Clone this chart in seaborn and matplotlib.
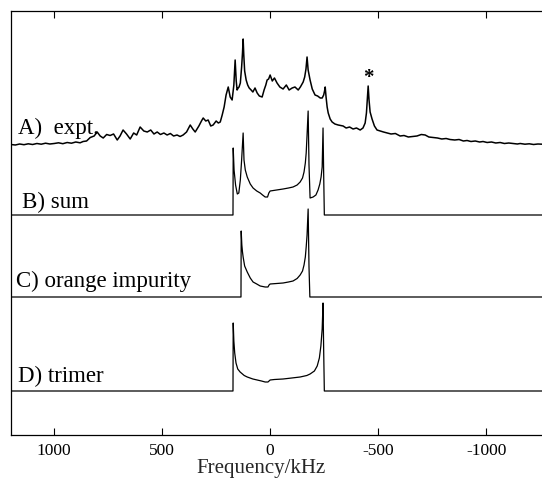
import matplotlib
matplotlib.use("Agg")
import matplotlib.pyplot as plt
import seaborn as sns
import pandas as pd

# ---------------- data (frequency in kHz, intensity in arbitrary units) ----------------
expt_freq = [1200, 1180, 1160, 1140, 1120, 1100, 1080, 1060, 1040, 1020,
             1000, 980, 960, 940, 920, 900, 880, 866, 850, 833,
             815, 801, 787, 773, 757, 741, 725, 708, 695, 681,
             665, 648, 632, 618, 602, 585, 569, 553, 538, 523,
             508, 492, 477, 462, 447, 431, 417, 403, 387, 370,
             358, 347, 330, 318, 310, 298, 287, 275, 264, 250,
             240, 231, 222, 213, 204, 194, 185, 176, 168, 162,
             157, 153, 148, 144, 138, 132, 128, 125, 122, 118,
             111, 104, 97, 88, 80, 70, 60, 50, 37, 28,
             20, 14, 7, 0, -10, -20, -32, -45, -60, -75,
             -88, -102, -115, -130, -140, -153, -160, -166, -171, -176,
             -185, -195, -208, -220, -232, -241, -248, -252, -255, -259,
             -264, -269, -278, -287, -300, -315, -338, -352, -368, -384,
             -400, -417, -430, -440, -446, -450, -454, -458, -463, -472,
             -483, -495, -510, -525, -542, -560, -580, -602, -620, -640,
             -662, -680, -700, -718, -735, -755, -775, -795, -815, -833,
             -855, -875, -895, -912, -930, -950, -970, -986, -1005, -1025,
             -1045, -1065, -1085, -1105, -1125, -1145, -1158, -1180, -1200, -1220,
             -1240, -1260]
expt_int = [0.5, 0, 1, 0.3, 1.2, 0.5, 1.5, 0.8, 1.8, 1,
            1.5, 2.2, 1.3, 2.5, 1.8, 3, 2.2, 3.5, 4, 7.5,
            9, 13, 9, 7, 10.5, 9.5, 11, 5, 9, 15,
            11, 6, 12, 10, 18, 14, 13, 15, 11, 13,
            10.5, 12, 10, 11.5, 9, 10, 8.5, 10, 13, 20,
            16, 13, 19, 24, 27, 24, 25, 19, 20, 24,
            22, 23, 30, 38, 50, 58, 48, 45, 60, 85,
            64, 55, 57, 58, 62, 78, 92, 106, 90, 74,
            65, 60, 57, 55, 53, 57, 52, 49, 48, 55,
            60, 65, 66, 70, 64, 67, 62, 58, 56, 60,
            55, 57, 58, 55, 58, 63, 68, 76, 88, 75,
            65, 56, 50, 49, 47, 47, 50, 54, 58, 48,
            38, 32, 26, 23, 21, 20, 19, 17, 18, 16,
            17, 15, 17, 22, 32, 45, 59, 45, 33, 26,
            19, 15, 14, 13, 12, 11, 11.5, 9, 9.5, 8,
            8.5, 9, 10.5, 10, 8, 7.5, 7, 6, 6.5, 5.5,
            5, 5.5, 4, 4.5, 3.5, 4, 3, 3.5, 2.5, 3,
            2, 2.5, 1.5, 2, 1.5, 1, 1.5, 0.8, 1.2, 0.5,
            1, 0.8]

sum_freq = [1200, 172, 171, 167, 160, 152, 145, 138, 132, 125,
            121, 115, 106, 92, 79, 62, 46, 35, 23, 12,
            6, 0, -30, -60, -85, -106, -125, -139, -150, -157,
            -163, -167, -171, -176, -180, -185, -199, -212, -222, -230,
            -236, -241, -245, -248, -251, -1260]
sum_int = [0, 0, 67, 45, 30, 21, 22, 35, 55, 82,
           55, 45, 38, 31, 27, 24, 22, 20, 18, 18,
           22, 24, 25, 26, 27, 28, 30, 33, 37, 43,
           52, 62, 80, 104, 50, 17, 18, 20, 25, 31,
           38, 48, 87, 40, 0, 0]

orange_freq = [1200, 135, 134, 131, 128, 125, 118, 106, 92, 79,
               62, 46, 23, 10, 5, 0, -30, -60, -85, -106,
               -125, -139, -150, -157, -163, -167, -171, -176, -180, -184,
               -1260]
orange_int = [0, 0, 66, 52, 45, 40, 31, 25, 19, 15,
              13, 11, 10, 10, 12, 13, 13.5, 14, 15, 16,
              18.5, 22, 26, 32, 40, 50, 62, 88, 30, 0,
              0]

trimer_freq = [1200, 172, 171, 168, 164, 158, 150, 139, 120, 106,
               80, 60, 40, 23, 10, 5, 0, -20, -60, -100,
               -139, -170, -185, -205, -218, -228, -235, -241, -245, -248,
               -251, -1260]
trimer_int = [0, 0, 68, 50, 38, 28, 22, 19, 15.5, 14,
              12, 11, 10, 9, 9, 10, 11, 11.5, 12, 13,
              14, 15.5, 17, 20, 25, 33, 45, 62, 88, 40,
              0, 0]

trace_labels = ["A)  expt.", "B) sum", "C) orange impurity", "D) trimer"]
trace_offsets = [290, 220, 138, 44]
label_y = [301, 227, 148, 53]
label_x = [1167, 1148, 1176, 1167]
star_freq = -454
tick_values = [1000, 500, 0, -500, -1000]

# ---------------- plotting ----------------
sns.set_theme(style="ticks")
plt.rcParams["font.family"] = ["Liberation Serif", "DejaVu Serif"]

fig = plt.figure(figsize=(5.42, 4.78), dpi=100)
ax = fig.add_axes([11 / 542, 1 - 435 / 478, 1 - 11 / 542, (435 - 11) / 478])

traces = [(expt_freq, expt_int), (sum_freq, sum_int),
          (orange_freq, orange_int), (trimer_freq, trimer_int)]
widths = [1.1, 0.9, 0.9, 0.9]
for (f, inten), off, lw in zip(traces, trace_offsets, widths):
    df = pd.DataFrame({"freq": f, "y": [v + off for v in inten]})
    sns.lineplot(data=df, x="freq", y="y", ax=ax, color="black",
                 linewidth=lw, sort=False, estimator=None)

for name, x, y in zip(trace_labels, label_x, label_y):
    ax.text(x, y, name, fontsize=16.5, ha="left", va="baseline", color="black")

star_y = trace_offsets[0] + max(v for fr, v in zip(expt_freq, expt_int) if fr == star_freq)
ax.text(star_freq, star_y - 2, "*", fontsize=15, ha="center", va="bottom",
        color="black", fontweight="bold")

ax.set_xlim(1200, -1259)
ax.set_ylim(0, 424)
ax.set_xticks(tick_values)
ax.set_xticklabels([str(t) for t in tick_values], fontsize=12.5)
ax.set_yticks([])
ax.set_xlabel("Frequency/kHz", fontsize=15)
ax.xaxis.set_label_coords((261 - 11) / 531, (435 - 473) / 424)
ax.xaxis.label.set_va("baseline")
ax.set_ylabel("")
ax.tick_params(axis="x", direction="in", top=True, bottom=True, length=5,
               width=0.8, pad=6, colors="black")
for side in ["left", "top", "bottom"]:
    ax.spines[side].set_visible(True)
    ax.spines[side].set_color("black")
    ax.spines[side].set_linewidth(0.9)
ax.spines["right"].set_visible(False)
ax.set_facecolor("white")
fig.patch.set_facecolor("white")

fig.savefig("out.png", dpi=100, facecolor="white")
